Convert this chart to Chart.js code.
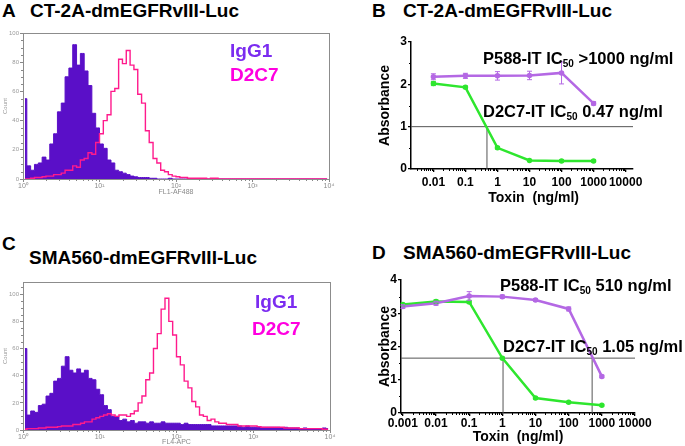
<!DOCTYPE html>
<html>
<head>
<meta charset="utf-8">
<script src="https://cdn.jsdelivr.net/npm/chart.js@4.4.1/dist/chart.umd.min.js"></script>
<style>
  html, body { margin: 0; padding: 0; background: #fff; }
  body { width: 685px; height: 446px; position: relative; overflow: hidden; font-family: "Liberation Sans", Arial, sans-serif; }
  canvas { position: absolute; }
  .t { position: absolute; font-weight: bold; white-space: nowrap; line-height: 1; }
  .ttl { font-size: 19px; color: #000; }
  .lg { font-size: 19px; }
  .ann { font-size: 16.5px; color: #000; }
  .ann sub { font-size: 10px; vertical-align: -3px; line-height: 0; }
</style>
</head>
<body>

<div class="t ttl" style="left:2px;top:1px;">A</div>
<div class="t ttl" style="left:30px;top:1px;">CT-2A-dmEGFRvIII-Luc</div>
<div class="t ttl" style="left:372px;top:1px;">B</div>
<div class="t ttl" style="left:403px;top:1px;">CT-2A-dmEGFRvIII-Luc</div>
<div class="t ttl" style="left:2px;top:234px;">C</div>
<div class="t ttl" style="left:29px;top:248px;">SMA560-dmEGFRvIII-Luc</div>
<div class="t ttl" style="left:372px;top:243px;">D</div>
<div class="t ttl" style="left:403px;top:243px;">SMA560-dmEGFRvIII-Luc</div>

<canvas id="histA" width="340" height="171" style="left:0;top:25px;"></canvas>
<canvas id="doseB" width="345" height="181" style="left:340px;top:28px;"></canvas>
<canvas id="histC" width="340" height="176" style="left:0;top:270px;"></canvas>
<canvas id="doseD" width="345" height="181" style="left:340px;top:265px;"></canvas>

<div class="t lg" style="left:230px;top:41px;color:#7b2cf0;">IgG1</div>
<div class="t lg" style="left:230px;top:65px;color:#ff00e0;">D2C7</div>
<div class="t lg" style="left:255px;top:292px;color:#7b2cf0;">IgG1</div>
<div class="t lg" style="left:252px;top:319px;color:#ff00e0;">D2C7</div>

<div class="t ann" style="left:483px;top:50px;">P588-IT IC<sub>50</sub> &gt;1000 ng/ml</div>
<div class="t ann" style="left:483px;top:103px;">D2C7-IT IC<sub>50</sub> 0.47 ng/ml</div>
<div class="t ann" style="left:500px;top:277px;">P588-IT IC<sub>50</sub> 510 ng/ml</div>
<div class="t ann" style="left:503px;top:338px;">D2C7-IT IC<sub>50</sub> 1.05 ng/ml</div>

<script>
// ---- flow histograms: counts per channel, 20 channels per decade (10^0 .. 10^4) ----
const IGG1_A = [55, 9, 6, 10, 11, 15, 13, 24, 31, 46,
                52, 70, 76, 92, 78, 86, 74, 64, 45, 35,
                24, 21, 13, 11, 6, 5, 4, 3, 2, 1.5,
                1, 1, 1, 0.5, 0.5, 0, 0, 0, 0.5, 0,
                0, 0, 0, 0, 0, 0, 0, 0, 0, 0,
                0, 0, 0, 0, 0, 0, 0, 0, 0, 0,
                0, 0, 0, 0, 0, 0, 0, 0, 0, 0,
                0, 0, 0, 0, 0, 0, 0, 0, 0, 0];
const D2C7_A = [0, 0, 0.5, 1, 1, 1.5, 2, 2, 3, 3,
                4, 6, 6, 9, 8, 13, 14, 18, 17, 25,
                31, 40, 44, 60, 62, 82, 79, 88, 78, 75,
                58, 52, 33, 25, 14, 11, 6, 5, 3, 2,
                1.5, 1, 1, 0.5, 0.5, 0.5, 0.5, 0.5, 0, 0.5,
                0.5, 0, 0, 0, 0, 0, 0, 0, 0, 0,
                0, 0, 0, 0, 0, 0, 0, 0, 0, 0,
                0, 0, 0, 0, 0, 0, 0, 0, 0, 0];
const IGG1_C = [60, 11, 14, 13, 18, 19, 25, 27, 36, 38,
                47, 54, 44, 42, 45, 42, 44, 38, 37, 30,
                26, 18, 15, 10, 10, 7, 8, 6, 7, 5,
                6, 6, 5, 6, 5, 5, 6, 5, 5, 5,
                5, 4, 5, 4, 4, 4, 4, 4, 4, 3,
                3, 3, 3, 3, 3, 3, 3, 2, 3, 2,
                2, 2, 2, 2, 2, 2, 2, 1.5, 2, 1.5,
                1.5, 1.5, 1, 1.5, 1, 1, 1, 1, 1.5, 1];
const D2C7_C = [0.5, 1, 1, 1, 1.5, 1.5, 2, 2, 2, 2.5,
                3, 3, 3, 4, 4, 5, 6, 6, 8, 9,
                10, 11, 12, 11, 10, 11, 11, 10, 12, 14,
                20, 25, 37, 42, 60, 71, 89, 97, 80, 70,
                54, 48, 36, 31, 21, 17, 11, 10, 7, 8,
                6, 5, 5, 4, 4, 4, 3, 3, 3, 3,
                3, 2.5, 2, 2, 2, 2, 2, 2, 1.5, 1.5,
                1.5, 1.5, 1, 1, 1, 1, 1, 1, 0.5, 0.5];
const DECADE_TICKS = [0, 20, 40, 60, 80];
const DECADE_LABELS = ['10\u2070', '10\u00b9', '10\u00b2', '10\u00b3', '10\u2074'];
const COUNT_TICKS = [0, 20, 40, 60, 80, 100];

// ---- cytotoxicity (absorbance vs toxin dose) ----
const DOSE_B = [0.01, 0.1, 1, 10, 100, 1000];
const P588_B = [2.18, 2.2, 2.2, 2.21, 2.27, 1.55];
const P588_B_ERR = [0.07, 0.06, 0.1, 0.1, 0.26, 0.04];
const D2C7_B = [2.02, 1.93, 0.5, 0.2, 0.19, 0.19];
const D2C7_B_ERR = [0.05, 0.03, 0.03, 0.02, 0.02, 0.02];
const DOSE_TICKS_B = [0.01, 0.1, 1, 10, 100, 1000, 10000];
const DOSE_LABELS_B = ['0.01', '0.1', '1', '10', '100', '1000', '10000'];
const ABS_TICKS_B = [0, 1, 2, 3];
const IC50_LEVEL_B = 1.0;
const IC50_DOSES_B = [0.47];

const DOSE_D = [0.001, 0.01, 0.1, 1, 10, 100, 1000];
const P588_D = [3.2, 3.3, 3.52, 3.5, 3.4, 3.13, 1.1];
const P588_D_ERR = [0.05, 0.06, 0.13, 0.05, 0.04, 0.06, 0.04];
const D2C7_D = [3.26, 3.35, 3.34, 1.65, 0.45, 0.32, 0.23];
const D2C7_D_ERR = [0.04, 0.05, 0.04, 0.03, 0.03, 0.03, 0.02];
const DOSE_TICKS_D = [0.001, 0.01, 0.1, 1, 10, 100, 1000, 10000];
const DOSE_LABELS_D = ['0.001', '0.01', '0.1', '1', '10', '100', '1000', '10000'];
const ABS_TICKS_D = [0, 1, 2, 3, 4];
const IC50_LEVEL_D = 1.65;
const IC50_DOSES_D = [1.05, 510];

const PURPLE = '#b468e4', GREEN = '#2ee62e', REF = '#555';
const HIST_FILL = '#5a0fc8', HIST_LINE = '#ff1a8c';
const BOLD = { family: '"Liberation Sans", Arial, sans-serif', weight: 'bold' };

Chart.defaults.animation = false;
Chart.defaults.plugins.legend.display = false;
Chart.defaults.plugins.tooltip.enabled = false;

// error bars, drawn from each dataset's `errors` array
const errorBars = {
  id: 'errorBars',
  afterDatasetsDraw(chart) {
    const { ctx, scales: { x, y } } = chart;
    chart.data.datasets.forEach(ds => {
      if (!ds.errors) return;
      ctx.save();
      ctx.strokeStyle = ds.borderColor; ctx.lineWidth = 1;
      ds.data.forEach((p, j) => {
        const px = x.getPixelForValue(p.x);
        const top = y.getPixelForValue(p.y + ds.errors[j]), bot = y.getPixelForValue(p.y - ds.errors[j]);
        ctx.beginPath();
        ctx.moveTo(px, top); ctx.lineTo(px, bot);
        ctx.moveTo(px - 2.5, top); ctx.lineTo(px + 2.5, top);
        ctx.moveTo(px - 2.5, bot); ctx.lineTo(px + 2.5, bot);
        ctx.stroke();
      });
      ctx.restore();
    });
  }
};

// short minor tick marks outside the axes
const minorTicks = {
  id: 'minorTicks',
  afterDraw(chart, args, opts) {
    const { ctx, chartArea: a, scales: { x, y } } = chart;
    ctx.save();
    ctx.strokeStyle = opts.color; ctx.lineWidth = 1;
    ctx.beginPath();
    (opts.xs || []).forEach(v => {
      const px = Math.round(x.getPixelForValue(v)) + 0.5;
      ctx.moveTo(px, a.bottom); ctx.lineTo(px, a.bottom + opts.len);
    });
    (opts.ys || []).forEach(v => {
      const py = Math.round(y.getPixelForValue(v)) + 0.5;
      ctx.moveTo(a.left, py); ctx.lineTo(a.left - opts.len, py);
    });
    ctx.stroke();
    ctx.restore();
  }
};

// grey box round the histogram plot
const frame = {
  id: 'frame',
  afterDraw(chart) {
    const { ctx, chartArea: a } = chart;
    ctx.save();
    ctx.strokeStyle = '#8c8c8c'; ctx.lineWidth = 1;
    ctx.strokeRect(Math.round(a.left) + 0.5, Math.round(a.top) + 0.5, Math.round(a.width), Math.round(a.height));
    ctx.restore();
  }
};

function logMinors(lo, hi) {
  const out = [];
  for (let d = Math.floor(Math.log10(lo)); d <= Math.ceil(Math.log10(hi)); d++)
    for (let k = 2; k <= 9; k++) { const v = k * Math.pow(10, d); if (v > lo && v < hi) out.push(v); }
  return out;
}

function histChart(id, igg, d2c7, xTitle, yMax, pad, xh) {
  const chan = igg.map((_, i) => i + 0.5);
  const xs = [];
  DECADE_TICKS.slice(0, -1).forEach(t => [2, 3, 4, 5, 6, 7, 8, 9].forEach(k => xs.push(t + 20 * Math.log10(k))));
  const ys = [];
  for (let v = 5; v < yMax; v += 5) if (v % 20) ys.push(v);
  return new Chart(document.getElementById(id), {
    type: 'line',
    data: {
      datasets: [
        { data: d2c7.map((c, i) => ({ x: chan[i], y: c })), stepped: 'middle', borderColor: HIST_LINE, borderWidth: 1.4, pointRadius: 0, fill: false, order: 1 },
        { data: igg.map((c, i) => ({ x: chan[i], y: c })), stepped: 'middle', borderColor: HIST_FILL, backgroundColor: HIST_FILL, borderWidth: 1, pointRadius: 0, fill: 'origin', order: 2 },
      ]
    },
    options: {
      responsive: false,
      layout: { padding: pad },
      plugins: { minorTicks: { xs, ys, len: 2, color: '#888' } },
      scales: {
        x: {
          type: 'linear', min: 0, max: 80,
          afterBuildTicks: s => { s.ticks = DECADE_TICKS.map(v => ({ value: v })); },
          afterFit: s => { s.height = xh; },
          ticks: { callback: (v, i) => DECADE_LABELS[i], autoSkip: false, maxRotation: 0, padding: 0, color: '#8a8a8a', font: { size: 7 } },
          grid: { drawOnChartArea: false, tickLength: 3, color: '#888' },
          border: { color: '#8c8c8c' },
          title: { display: true, text: xTitle, color: '#8a8a8a', font: { size: 7 }, padding: 0 },
        },
        y: {
          min: 0, max: yMax,
          afterBuildTicks: s => { s.ticks = COUNT_TICKS.map(v => ({ value: v })); },
          afterFit: s => { s.width = 23; },
          ticks: { padding: 1, color: '#9a9a9a', font: { size: 6 } },
          grid: { drawOnChartArea: false, tickLength: 3, color: '#888' },
          border: { color: '#8c8c8c' },
          title: { display: true, text: 'Count', color: '#9a9a9a', font: { size: 6 }, padding: { top: 2, bottom: 0 } },
        }
      }
    },
    plugins: [frame, minorTicks]
  });
}

function doseChart(id, cfg) {
  const pts = (xs, ys) => xs.map((d, i) => ({ x: d, y: ys[i] }));
  const refLines = [{ data: [{ x: cfg.xMin, y: cfg.level }, { x: cfg.xMax, y: cfg.level }] }]
    .concat(cfg.ic50.map(d => ({ data: [{ x: d, y: 0 }, { x: d, y: cfg.level }] })))
    .map(r => Object.assign(r, { borderColor: REF, borderWidth: 1, pointRadius: 0, order: 3 }));
  const ys = [];
  for (let v = 0.5; v < cfg.yTicks[cfg.yTicks.length - 1]; v += 1) ys.push(v);
  return new Chart(document.getElementById(id), {
    type: 'line',
    data: {
      datasets: refLines.concat([
        { data: pts(cfg.dose, cfg.d2c7), errors: cfg.d2c7Err, borderColor: GREEN, backgroundColor: GREEN, borderWidth: 2.5, pointRadius: 1.5, order: 2 },
        { data: pts(cfg.dose, cfg.p588), errors: cfg.p588Err, borderColor: PURPLE, backgroundColor: PURPLE, borderWidth: 2.5, pointRadius: 1.5, order: 1 },
      ])
    },
    options: {
      responsive: false,
      layout: { padding: cfg.pad },
      plugins: { minorTicks: { xs: logMinors(cfg.xMin, cfg.xMax), ys, len: 2, color: '#000' } },
      scales: {
        x: {
          type: 'logarithmic', min: cfg.xMin, max: cfg.xMax,
          afterBuildTicks: s => { s.ticks = cfg.xTicks.map(v => ({ value: v })); },
          afterFit: s => { s.height = cfg.xh; },
          ticks: { callback: (v, i) => cfg.xLabels[i], autoSkip: false, maxRotation: 0, minRotation: 0, padding: cfg.tickPad, color: '#000', font: Object.assign({ size: 12 }, BOLD) },
          grid: { drawOnChartArea: false, tickLength: 3, color: '#000', lineWidth: 1.3 },
          border: { color: '#000', width: 1.5 },
          title: { display: true, text: cfg.xTitle, color: '#000', font: Object.assign({ size: 14 }, BOLD), padding: { top: 0, bottom: cfg.titlePad } },
        },
        y: {
          min: 0, max: cfg.yTicks[cfg.yTicks.length - 1],
          afterBuildTicks: s => { s.ticks = cfg.yTicks.map(v => ({ value: v })); },
          afterFit: s => { s.width = cfg.yw; },
          ticks: { padding: 1, color: '#000', font: Object.assign({ size: 12 }, BOLD) },
          grid: { drawOnChartArea: false, tickLength: 3, color: '#000', lineWidth: 1.3 },
          border: { color: '#000', width: 1.5 },
          title: { display: true, text: 'Absorbance', color: '#000', font: Object.assign({ size: 14 }, BOLD), padding: { top: 4, bottom: 0 } },
        }
      }
    },
    plugins: [errorBars, minorTicks]
  });
}

histChart('histA', IGG1_A, D2C7_A, 'FL1-AF488', 100, { left: 0, top: 8, right: 11, bottom: 0 }, 17);
histChart('histC', IGG1_C, D2C7_C, 'FL4-APC', 109, { left: 0, top: 12, right: 10, bottom: 0 }, 16);

doseChart('doseB', {
  dose: DOSE_B, p588: P588_B, p588Err: P588_B_ERR, d2c7: D2C7_B, d2c7Err: D2C7_B_ERR,
  xTicks: DOSE_TICKS_B, xLabels: DOSE_LABELS_B, yTicks: ABS_TICKS_B,
  level: IC50_LEVEL_B, ic50: IC50_DOSES_B, xMin: 0.002, xMax: 17000,
  xTitle: '      Toxin  (ng/ml)', pad: { left: 33, top: 14, right: 52, bottom: 0 }, yw: 38, xh: 40, tickPad: 3, titlePad: 2,
});
doseChart('doseD', {
  dose: DOSE_D, p588: P588_D, p588Err: P588_D_ERR, d2c7: D2C7_D, d2c7Err: D2C7_D_ERR,
  xTicks: DOSE_TICKS_D, xLabels: DOSE_LABELS_D, yTicks: ABS_TICKS_D,
  level: IC50_LEVEL_D, ic50: IC50_DOSES_D, xMin: 0.00088, xMax: 10000,
  xTitle: 'Toxin  (ng/ml)', pad: { left: 33, top: 15, right: 50, bottom: 0 }, yw: 28, xh: 33, tickPad: 0, titlePad: 0,
});
</script>
</body>
</html>
